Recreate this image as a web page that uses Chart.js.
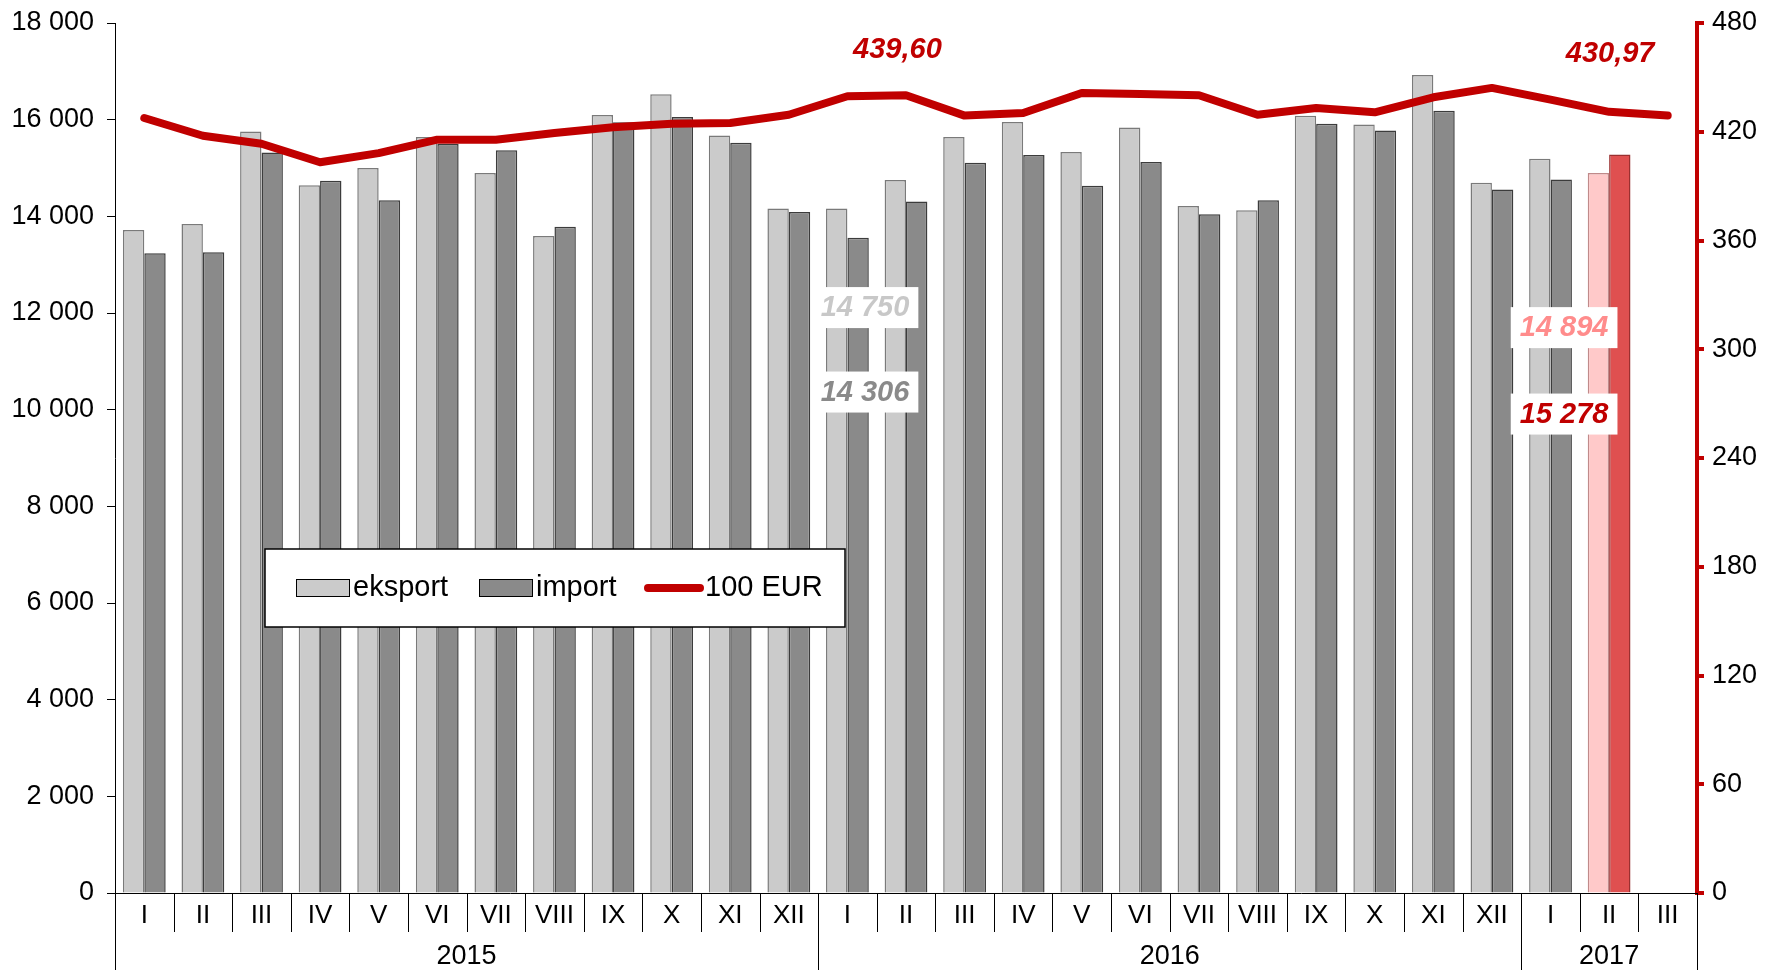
<!DOCTYPE html>
<html>
<head>
<meta charset="utf-8">
<title>eksport / import / 100 EUR</title>
<script src="https://cdn.jsdelivr.net/npm/chart.js@4"></script>
<style>
  html, body { margin: 0; padding: 0; background: #fff; }
  #wrap { width: 1770px; height: 970px; }
</style>
</head>
<body>
<div id="wrap"><canvas id="tradeChart" width="1770" height="970"></canvas></div>
<script>
// months on the x axis, grouped by year
const months = ['I', 'II', 'III', 'IV', 'V', 'VI', 'VII', 'VIII', 'IX', 'X', 'XI', 'XII',
                'I', 'II', 'III', 'IV', 'V', 'VI', 'VII', 'VIII', 'IX', 'X', 'XI', 'XII',
                'I', 'II', 'III'];
const yearLabels = ['2015', '2016', '2017'];
const yearLengths = [12, 12, 3];

// left axis values
const exportValues = [13718, 13843, 15757, 14645, 14998, 15641, 14894, 13594, 16097, 16524, 15675, 14160,
                      14160, 14750, 15641, 15950, 15330, 15839, 14216, 14126, 16083, 15900, 16926, 14693,
                      15190, 14894, null];
const importValues = [13235, 13255, 15322, 14735, 14334, 15496, 15365, 13787, 15944, 16055, 15523, 14092,
                      13558, 14306, 15108, 15267, 14631, 15122, 14043, 14334, 15917, 15776, 16183, 14555,
                      14762, 15278, null];
// right axis values
const eurRate = [427.6, 417.8, 413.4, 403.2, 408.2, 415.6, 415.6, 419.3, 422.5, 424.4, 424.8, 429.4,
                 439.6, 440.1, 428.9, 430.3, 441.4, 440.8, 440.1, 429.4, 433.1, 430.7, 439.0, 444.2,
                 437.7, 430.97, 429.0];

const leftMax = 18000, leftStep = 2000;
const rightMax = 480, rightStep = 60;

const FONT = "'Liberation Sans', Arial, sans-serif";
const RED = '#c00000';
const highlight = 25; // last reported month

const fmtInt = v => String(v).replace(/\B(?=(\d{3})+(?!\d))/g, ' ');
const fmtDec = v => v.toFixed(2).replace('.', ',');

const exportFill = months.map((_, i) => i === highlight ? '#ffc9c9' : '#cbcbcb');
const exportBorder = months.map((_, i) => i === highlight ? '#c08a8a' : '#7a7a7a');
const importFill = months.map((_, i) => i === highlight ? '#df5050' : '#8a8a8a');
const importBorder = months.map((_, i) => i === highlight ? '#9a3030' : '#3c3c3c');

// value callouts (anchored to the scales, offset in px)
const callouts = [
  { text: fmtDec(eurRate[12]), color: RED, axis: 'y1', index: 12, value: eurRate[12], dx: 50, dy: -47, box: false },
  { text: fmtDec(eurRate[25]), color: RED, axis: 'y1', index: 25, value: eurRate[25], dx: 1, dy: -59, box: false },
  { text: fmtInt(exportValues[13]), color: '#c8c8c8', axis: 'y', index: 13, value: exportValues[13], dx: -41, dy: 127, box: true },
  { text: fmtInt(importValues[13]), color: '#8a8a8a', axis: 'y', index: 13, value: importValues[13], dx: -41, dy: 190, box: true },
  { text: fmtInt(exportValues[25]), color: '#ff8c8c', axis: 'y', index: 25, value: exportValues[25], dx: -45, dy: 154, box: true },
  { text: fmtInt(importValues[25]), color: RED, axis: 'y', index: 25, value: importValues[25], dx: -45, dy: 259, box: true }
];

const decor = {
  id: 'decor',
  afterDraw(chart) {
    const { ctx, chartArea: area, scales } = chart;
    const x = scales.x;
    const step = x.getPixelForValue(1) - x.getPixelForValue(0);
    const edge = i => x.getPixelForValue(0) - step / 2 + i * step;
    const bottom = area.bottom;

    ctx.save();
    // x axis line
    ctx.strokeStyle = '#000';
    ctx.lineWidth = 1;
    ctx.beginPath();
    ctx.moveTo(area.left, bottom + 0.5);
    ctx.lineTo(area.right, bottom + 0.5);
    ctx.stroke();

    // month separators
    ctx.beginPath();
    for (let i = 0; i <= months.length; i++) {
      const px = Math.round(edge(i)) + 0.5;
      ctx.moveTo(px, bottom);
      ctx.lineTo(px, bottom + 39);
    }
    ctx.stroke();

    // year separators
    let acc = 0;
    const bounds = [0];
    yearLengths.forEach(n => { acc += n; bounds.push(acc); });
    ctx.beginPath();
    bounds.forEach(b => {
      const px = Math.round(edge(b)) + 0.5;
      ctx.moveTo(px, bottom);
      ctx.lineTo(px, chart.height);
    });
    ctx.stroke();

    // month and year labels
    ctx.fillStyle = '#000';
    ctx.font = '26px ' + FONT;
    ctx.textAlign = 'center';
    ctx.textBaseline = 'middle';
    months.forEach((m, i) => ctx.fillText(m, x.getPixelForValue(i), bottom + 23));
    ctx.font = '27px ' + FONT;
    yearLabels.forEach((y, k) => {
      const cx = (edge(bounds[k]) + edge(bounds[k + 1])) / 2;
      ctx.fillText(y, cx, bottom + 64);
    });

    // legend
    const lx = area.left + 150, ly = 549, lw = 580, lh = 78;
    ctx.fillStyle = '#fff';
    ctx.fillRect(lx, ly, lw, lh);
    ctx.lineWidth = 1.5;
    ctx.strokeStyle = '#000';
    ctx.strokeRect(lx, ly, lw, lh);
    const cy = ly + lh / 2;
    ctx.font = '29px ' + FONT;
    ctx.textAlign = 'left';
    ctx.lineWidth = 1;
    ctx.fillStyle = '#cbcbcb';
    ctx.fillRect(lx + 31, cy - 9, 53, 17);
    ctx.strokeRect(lx + 31.5, cy - 8.5, 53, 17);
    ctx.fillStyle = '#000';
    ctx.fillText('eksport', lx + 88, cy);
    ctx.fillStyle = '#8a8a8a';
    ctx.fillRect(lx + 214, cy - 9, 53, 17);
    ctx.strokeRect(lx + 214.5, cy - 8.5, 53, 17);
    ctx.fillStyle = '#000';
    ctx.fillText('import', lx + 271, cy);
    ctx.strokeStyle = RED;
    ctx.lineWidth = 8;
    ctx.lineCap = 'round';
    ctx.beginPath();
    ctx.moveTo(lx + 383, cy);
    ctx.lineTo(lx + 435, cy);
    ctx.stroke();
    ctx.fillStyle = '#000';
    ctx.fillText('100 EUR', lx + 440, cy);

    // callouts
    ctx.font = 'italic bold 29px ' + FONT;
    ctx.textAlign = 'center';
    callouts.forEach(c => {
      const px = x.getPixelForValue(c.index) + c.dx;
      const py = scales[c.axis].getPixelForValue(c.value) + c.dy;
      if (c.box) {
        const w = ctx.measureText(c.text).width + 18;
        ctx.fillStyle = '#fff';
        ctx.fillRect(px - w / 2, py - 20, w, 41);
      }
      ctx.fillStyle = c.color;
      ctx.fillText(c.text, px, py + 1);
    });
    ctx.restore();
  }
};

// fix the axis widths and drop the label overflow padding so the plot area lines up
const pinAxis = width => s => {
  s.width = width;
  s.paddingTop = 0;
  s.paddingBottom = 0;
};

const ctx = document.getElementById('tradeChart').getContext('2d');
new Chart(ctx, {
  type: 'bar',
  data: {
    labels: months,
    datasets: [
      {
        type: 'line',
        label: '100 EUR',
        data: eurRate,
        yAxisID: 'y1',
        borderColor: RED,
        borderWidth: 8,
        borderCapStyle: 'round',
        borderJoinStyle: 'round',
        pointRadius: 0,
        tension: 0,
        order: 0
      },
      {
        label: 'eksport',
        data: exportValues,
        yAxisID: 'y',
        backgroundColor: exportFill,
        borderColor: exportBorder,
        borderWidth: 1.5,
        barPercentage: 1,
        categoryPercentage: 0.73,
        order: 1
      },
      {
        label: 'import',
        data: importValues,
        yAxisID: 'y',
        backgroundColor: importFill,
        borderColor: importBorder,
        borderWidth: 1.5,
        barPercentage: 1,
        categoryPercentage: 0.73,
        order: 2
      }
    ]
  },
  options: {
    responsive: false,
    devicePixelRatio: 1,
    animation: false,
    layout: { padding: { top: 23, bottom: 77, left: 0, right: 0 } },
    plugins: { legend: { display: false }, tooltip: { enabled: false } },
    scales: {
      x: { display: false },
      y: {
        position: 'left',
        min: 0,
        max: leftMax,
        afterFit: pinAxis(115),
        border: { display: true, color: '#000', width: 1 },
        grid: { drawOnChartArea: false, color: '#000', tickLength: 8, lineWidth: 1 },
        ticks: {
          stepSize: leftStep,
          padding: 13,
          color: '#000',
          font: { family: FONT, size: 27 },
          callback: v => fmtInt(v)
        }
      },
      y1: {
        position: 'right',
        min: 0,
        max: rightMax,
        afterFit: pinAxis(73),
        border: { display: true, color: RED, width: 4 },
        grid: { drawOnChartArea: false, color: RED, tickLength: 7, lineWidth: 4 },
        ticks: {
          stepSize: rightStep,
          padding: 8,
          color: '#000',
          font: { family: FONT, size: 27 }
        }
      }
    }
  },
  plugins: [decor]
});
</script>
</body>
</html>
